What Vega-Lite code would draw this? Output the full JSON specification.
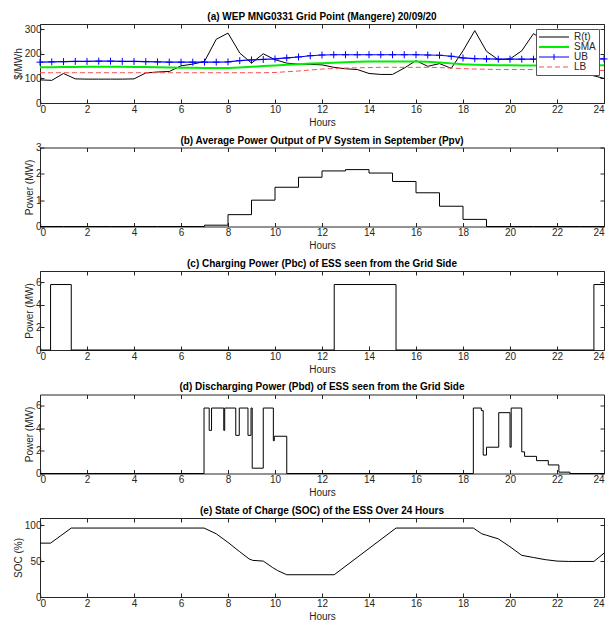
{
  "$schema": "https://vega.github.io/schema/vega-lite/v6.json",
  "padding": {"left": 12, "top": 11, "right": 0, "bottom": 0},
  "spacing": 6.5,
  "config": {
    "font": "Liberation Sans",
    "view": {"stroke": "#262626", "strokeWidth": 1},
    "axis": {"grid": false, "domain": false, "tickSize": -4, "tickColor": "#262626", "labelColor": "#262626", "titleColor": "#262626", "labelFontSize": 10, "titleFontSize": 10, "titleFontWeight": "normal", "tickWidth": 1},
    "axisX": {"labelPadding": 5, "titlePadding": 3},
    "axisY": {"labelPadding": 3, "titlePadding": 1},
    "title": {"fontSize": 10, "fontWeight": "bold", "color": "#000000", "anchor": "middle", "frame": "group", "offset": 2}
  },
  "datasets": {
    "pa": [
      {"t": 0, "R": 94, "SMA": 145, "UB": 166, "LB": 123},
      {"t": 0.5, "R": 92, "SMA": 145, "UB": 167, "LB": 123},
      {"t": 1, "R": 120, "SMA": 146, "UB": 168, "LB": 123},
      {"t": 1.5, "R": 98, "SMA": 146, "UB": 169, "LB": 123},
      {"t": 2, "R": 97, "SMA": 147, "UB": 169, "LB": 123},
      {"t": 2.5, "R": 97, "SMA": 147, "UB": 170, "LB": 123},
      {"t": 3, "R": 97, "SMA": 147, "UB": 170, "LB": 123},
      {"t": 3.5, "R": 97, "SMA": 147, "UB": 169, "LB": 123},
      {"t": 4, "R": 98, "SMA": 146, "UB": 169, "LB": 123},
      {"t": 4.5, "R": 122, "SMA": 146, "UB": 168, "LB": 123},
      {"t": 5, "R": 126, "SMA": 145, "UB": 167, "LB": 123},
      {"t": 5.5, "R": 128, "SMA": 144, "UB": 166, "LB": 123},
      {"t": 6, "R": 151, "SMA": 143, "UB": 166, "LB": 123},
      {"t": 6.5, "R": 158, "SMA": 143, "UB": 166, "LB": 123},
      {"t": 7, "R": 169, "SMA": 142, "UB": 166, "LB": 123},
      {"t": 7.5, "R": 259, "SMA": 142, "UB": 166, "LB": 123},
      {"t": 8, "R": 284, "SMA": 142, "UB": 167, "LB": 123},
      {"t": 8.5, "R": 203, "SMA": 144, "UB": 172, "LB": 123},
      {"t": 9, "R": 162, "SMA": 147, "UB": 175, "LB": 123},
      {"t": 9.5, "R": 200, "SMA": 150, "UB": 177, "LB": 123},
      {"t": 10, "R": 176, "SMA": 152, "UB": 179, "LB": 124},
      {"t": 10.5, "R": 162, "SMA": 155, "UB": 183, "LB": 127},
      {"t": 11, "R": 158, "SMA": 157, "UB": 187, "LB": 130},
      {"t": 11.5, "R": 157, "SMA": 160, "UB": 192, "LB": 134},
      {"t": 12, "R": 155, "SMA": 162, "UB": 195, "LB": 138},
      {"t": 12.5, "R": 145, "SMA": 164, "UB": 196, "LB": 140},
      {"t": 13, "R": 139, "SMA": 166, "UB": 196, "LB": 142},
      {"t": 13.5, "R": 136, "SMA": 168, "UB": 196, "LB": 143},
      {"t": 14, "R": 120, "SMA": 169, "UB": 196, "LB": 144},
      {"t": 14.5, "R": 116, "SMA": 169, "UB": 196, "LB": 145},
      {"t": 15, "R": 116, "SMA": 169, "UB": 196, "LB": 145},
      {"t": 15.5, "R": 142, "SMA": 169, "UB": 196, "LB": 145},
      {"t": 16, "R": 172, "SMA": 169, "UB": 196, "LB": 145},
      {"t": 16.5, "R": 149, "SMA": 168, "UB": 195, "LB": 145},
      {"t": 17, "R": 160, "SMA": 165, "UB": 194, "LB": 144},
      {"t": 17.5, "R": 141, "SMA": 161, "UB": 190, "LB": 142},
      {"t": 18, "R": 212, "SMA": 157, "UB": 183, "LB": 140},
      {"t": 18.5, "R": 294, "SMA": 155, "UB": 180, "LB": 138},
      {"t": 19, "R": 210, "SMA": 154, "UB": 179, "LB": 137},
      {"t": 19.5, "R": 176, "SMA": 153, "UB": 178, "LB": 136},
      {"t": 20, "R": 179, "SMA": 153, "UB": 178, "LB": 136},
      {"t": 20.5, "R": 212, "SMA": 152, "UB": 178, "LB": 136},
      {"t": 21, "R": 282, "SMA": 152, "UB": 178, "LB": 136},
      {"t": 21.5, "R": 250, "SMA": 152, "UB": 178, "LB": 136},
      {"t": 22, "R": 200, "SMA": 152, "UB": 178, "LB": 136},
      {"t": 22.5, "R": 160, "SMA": 152, "UB": 179, "LB": 135},
      {"t": 23, "R": 130, "SMA": 152, "UB": 179, "LB": 134},
      {"t": 23.5, "R": 112, "SMA": 152, "UB": 179, "LB": 133},
      {"t": 24, "R": 100, "SMA": 153, "UB": 179, "LB": 132}
    ],
    "pb": [
      {"t": 0, "p": 0}, {"t": 1, "p": 0}, {"t": 2, "p": 0}, {"t": 3, "p": 0}, {"t": 4, "p": 0}, {"t": 5, "p": 0}, {"t": 6, "p": 0},
      {"t": 7, "p": 0.05}, {"t": 8, "p": 0.45}, {"t": 9, "p": 1.0}, {"t": 10, "p": 1.49}, {"t": 11, "p": 1.87}, {"t": 12, "p": 2.11},
      {"t": 13, "p": 2.16}, {"t": 14, "p": 2.03}, {"t": 15, "p": 1.71}, {"t": 16, "p": 1.28}, {"t": 17, "p": 0.77}, {"t": 18, "p": 0.27},
      {"t": 19, "p": 0}, {"t": 20, "p": 0}, {"t": 21, "p": 0}, {"t": 22, "p": 0}, {"t": 23, "p": 0}, {"t": 24, "p": 0}
    ],
    "pc": [
      {"t": 0, "p": 0}, {"t": 0.45, "p": 5.8}, {"t": 1.33, "p": 0}, {"t": 12.52, "p": 5.8}, {"t": 15.15, "p": 0}, {"t": 23.57, "p": 5.8}, {"t": 24, "p": 5.8}
    ],
    "pd": [
      {"t": 0, "p": 0}, {"t": 6.98, "p": 5.8}, {"t": 7.2, "p": 3.82}, {"t": 7.3, "p": 5.8}, {"t": 7.82, "p": 3.82}, {"t": 7.86, "p": 5.8},
      {"t": 8.33, "p": 3.38}, {"t": 8.48, "p": 5.8}, {"t": 8.85, "p": 3.38}, {"t": 8.98, "p": 5.8}, {"t": 9.03, "p": 0.47},
      {"t": 9.5, "p": 5.8}, {"t": 9.93, "p": 2.9}, {"t": 9.97, "p": 3.3}, {"t": 10.5, "p": 0}, {"t": 18.44, "p": 5.8},
      {"t": 18.78, "p": 5.57}, {"t": 18.86, "p": 1.63}, {"t": 19.0, "p": 2.33}, {"t": 19.52, "p": 5.39}, {"t": 20.0, "p": 2.33},
      {"t": 20.05, "p": 5.8}, {"t": 20.5, "p": 1.92}, {"t": 20.62, "p": 1.52}, {"t": 21.13, "p": 1.14}, {"t": 21.63, "p": 0.76},
      {"t": 22.08, "p": 0.12}, {"t": 22.55, "p": 0}, {"t": 24, "p": 0}
    ],
    "pe": [
      {"t": 0, "s": 75}, {"t": 0.45, "s": 75}, {"t": 1.33, "s": 96}, {"t": 6.98, "s": 96}, {"t": 7.5, "s": 88}, {"t": 8.0, "s": 76},
      {"t": 8.5, "s": 63}, {"t": 8.9, "s": 53}, {"t": 9.05, "s": 51}, {"t": 9.5, "s": 50}, {"t": 9.9, "s": 41}, {"t": 10.1, "s": 37},
      {"t": 10.5, "s": 31}, {"t": 12.52, "s": 31}, {"t": 15.15, "s": 96}, {"t": 18.44, "s": 96}, {"t": 18.8, "s": 88},
      {"t": 19.0, "s": 86}, {"t": 19.5, "s": 81}, {"t": 20.0, "s": 70}, {"t": 20.5, "s": 58}, {"t": 21.0, "s": 55},
      {"t": 21.5, "s": 52}, {"t": 22.0, "s": 50}, {"t": 22.5, "s": 49.5}, {"t": 23.57, "s": 49.5}, {"t": 24, "s": 61}
    ]
  },
  "vconcat": [
    {
      "title": {"text": "(a) WEP MNG0331 Grid Point (Mangere) 20/09/20"},
      "width": 564, "height": 79,
      "data": {"name": "pa"},
      "transform": [{"fold": ["R", "SMA", "UB", "LB"], "as": ["series", "v"]}],
      "encoding": {
        "x": {"field": "t", "type": "quantitative", "scale": {"domain": [0, 24], "nice": false}, "axis": null},
        "y": {"field": "v", "type": "quantitative", "scale": {"domain": [0, 321], "nice": false}, "axis": null}
      },
      "layer": [
        {
          "transform": [{"filter": "datum.series === 'R'"}],
          "mark": {"type": "line", "strokeWidth": 1},
          "encoding": {
            "x": {"field": "t", "type": "quantitative", "axis": {"values": [0,2,4,6,8,10,12,14,16,18,20,22,24], "title": "Hours"}},
            "y": {"field": "v", "type": "quantitative", "axis": {"values": [0, 100, 200, 300], "title": "$/MWh"}},
            "color": {"field": "series", "type": "nominal",
              "scale": {"domain": ["R", "SMA", "UB", "LB"], "range": ["#000000", "#00ee00", "#0000ff", "#ff4d4d"]},
              "legend": {"orient": "none", "legendX": 496, "legendY": 5, "title": null, "fillColor": "white", "strokeColor": "#555555", "padding": 3, "rowPadding": 0,
                "symbolType": "M-3,0H3", "symbolSize": 100, "symbolOffset": 10, "labelOffset": 15, "labelFontSize": 10, "labelColor": "#262626", "symbolStrokeWidth": 1,
                "labelExpr": "datum.value === 'R' ? 'R(t)' : datum.value",
                "encode": {"symbols": {"update": {
                  "shape": {"signal": "datum.value === 'UB' ? 'M-3,0H3M0,-0.6V0.6' : 'M-3,0H3'"},
                  "strokeWidth": {"signal": "datum.value === 'SMA' ? 2 : 1"},
                  "strokeDash": {"signal": "datum.value === 'LB' ? [5, 3] : [1, 0]"}
                }}}}}
          }
        },
        {
          "transform": [{"filter": "datum.series === 'SMA'"}],
          "mark": {"type": "line", "strokeWidth": 2},
          "encoding": {"color": {"field": "series", "type": "nominal"}}
        },
        {
          "transform": [{"filter": "datum.series === 'UB'"}],
          "mark": {"type": "line", "strokeWidth": 1.2},
          "encoding": {"color": {"field": "series", "type": "nominal"}}
        },
        {
          "transform": [{"filter": "datum.series === 'UB'"}],
          "mark": {"type": "point", "shape": "M-1,0H1M0,-1V1", "filled": false, "color": "#0000ff", "size": 49, "strokeWidth": 1, "opacity": 1},
          "encoding": {}
        },
        {
          "transform": [{"filter": "datum.series === 'LB'"}],
          "mark": {"type": "line", "strokeWidth": 1, "strokeDash": [5, 3]},
          "encoding": {"color": {"field": "series", "type": "nominal"}}
        },
        {
          "transform": [{"filter": "datum.series === 'R'"}],
          "mark": {"type": "line", "opacity": 0},
          "encoding": {
            "x": {"field": "t", "type": "quantitative", "axis": {"orient": "top", "values": [0,2,4,6,8,10,12,14,16,18,20,22,24], "labels": false, "title": null}},
            "y": {"field": "v", "type": "quantitative", "axis": {"orient": "right", "values": [0, 100, 200, 300], "labels": false, "title": null}}
          }
        }
      ],
      "resolve": {"axis": {"x": "independent", "y": "independent"}}
    },
    {
      "title": {"text": "(b) Average Power Output of PV System in September (Ppv)", "offset": -3},
      "width": 564, "height": 79,
      "data": {"name": "pb"},
      "layer": [
        {
          "mark": {"type": "line", "color": "#000000", "strokeWidth": 1, "interpolate": "step-after"},
          "encoding": {
            "x": {"field": "t", "type": "quantitative", "scale": {"domain": [0, 24], "nice": false}, "axis": {"values": [0,2,4,6,8,10,12,14,16,18,20,22,24], "title": "Hours"}},
            "y": {"field": "p", "type": "quantitative", "scale": {"domain": [0, 3], "nice": false}, "axis": {"values": [0, 1, 2, 3], "title": "Power (MW)"}}
          }
        },
        {
          "mark": {"type": "line", "opacity": 0},
          "encoding": {
            "x": {"field": "t", "type": "quantitative", "axis": {"orient": "top", "values": [0,2,4,6,8,10,12,14,16,18,20,22,24], "labels": false, "title": null}},
            "y": {"field": "p", "type": "quantitative", "axis": {"orient": "right", "values": [0, 1, 2, 3], "labels": false, "title": null}}
          }
        }
      ],
      "resolve": {"axis": {"x": "independent", "y": "independent"}}
    },
    {
      "title": {"text": "(c) Charging Power (Pbc) of ESS seen from the Grid Side"},
      "width": 564, "height": 79,
      "data": {"name": "pc"},
      "layer": [
        {
          "mark": {"type": "line", "color": "#000000", "strokeWidth": 1, "interpolate": "step-after"},
          "encoding": {
            "x": {"field": "t", "type": "quantitative", "scale": {"domain": [0, 24], "nice": false}, "axis": {"values": [0,2,4,6,8,10,12,14,16,18,20,22,24], "title": "Hours"}},
            "y": {"field": "p", "type": "quantitative", "scale": {"domain": [0, 7], "nice": false}, "axis": {"values": [0, 2, 4, 6], "title": "Power (MW)"}}
          }
        },
        {
          "mark": {"type": "line", "opacity": 0},
          "encoding": {
            "x": {"field": "t", "type": "quantitative", "axis": {"orient": "top", "values": [0,2,4,6,8,10,12,14,16,18,20,22,24], "labels": false, "title": null}},
            "y": {"field": "p", "type": "quantitative", "axis": {"orient": "right", "values": [0, 2, 4, 6], "labels": false, "title": null}}
          }
        }
      ],
      "resolve": {"axis": {"x": "independent", "y": "independent"}}
    },
    {
      "title": {"text": "(d) Discharging Power (Pbd) of ESS seen from the Grid Side"},
      "width": 564, "height": 79,
      "data": {"name": "pd"},
      "layer": [
        {
          "mark": {"type": "line", "color": "#000000", "strokeWidth": 1, "interpolate": "step-after"},
          "encoding": {
            "x": {"field": "t", "type": "quantitative", "scale": {"domain": [0, 24], "nice": false}, "axis": {"values": [0,2,4,6,8,10,12,14,16,18,20,22,24], "title": "Hours"}},
            "y": {"field": "p", "type": "quantitative", "scale": {"domain": [0, 7], "nice": false}, "axis": {"values": [0, 2, 4, 6], "title": "Power (MW)"}}
          }
        },
        {
          "mark": {"type": "line", "opacity": 0},
          "encoding": {
            "x": {"field": "t", "type": "quantitative", "axis": {"orient": "top", "values": [0,2,4,6,8,10,12,14,16,18,20,22,24], "labels": false, "title": null}},
            "y": {"field": "p", "type": "quantitative", "axis": {"orient": "right", "values": [0, 2, 4, 6], "labels": false, "title": null}}
          }
        }
      ],
      "resolve": {"axis": {"x": "independent", "y": "independent"}}
    },
    {
      "title": {"text": "(e) State of Charge (SOC) of the ESS Over 24 Hours"},
      "width": 564, "height": 79,
      "data": {"name": "pe"},
      "layer": [
        {
          "mark": {"type": "line", "color": "#000000", "strokeWidth": 1},
          "encoding": {
            "x": {"field": "t", "type": "quantitative", "scale": {"domain": [0, 24], "nice": false}, "axis": {"values": [0,2,4,6,8,10,12,14,16,18,20,22,24], "title": "Hours"}},
            "y": {"field": "s", "type": "quantitative", "scale": {"domain": [0, 110], "nice": false}, "axis": {"values": [0, 50, 100], "title": "SOC (%)"}}
          }
        },
        {
          "mark": {"type": "line", "opacity": 0},
          "encoding": {
            "x": {"field": "t", "type": "quantitative", "axis": {"orient": "top", "values": [0,2,4,6,8,10,12,14,16,18,20,22,24], "labels": false, "title": null}},
            "y": {"field": "s", "type": "quantitative", "axis": {"orient": "right", "values": [0, 50, 100], "labels": false, "title": null}}
          }
        }
      ],
      "resolve": {"axis": {"x": "independent", "y": "independent"}}
    }
  ]
}
